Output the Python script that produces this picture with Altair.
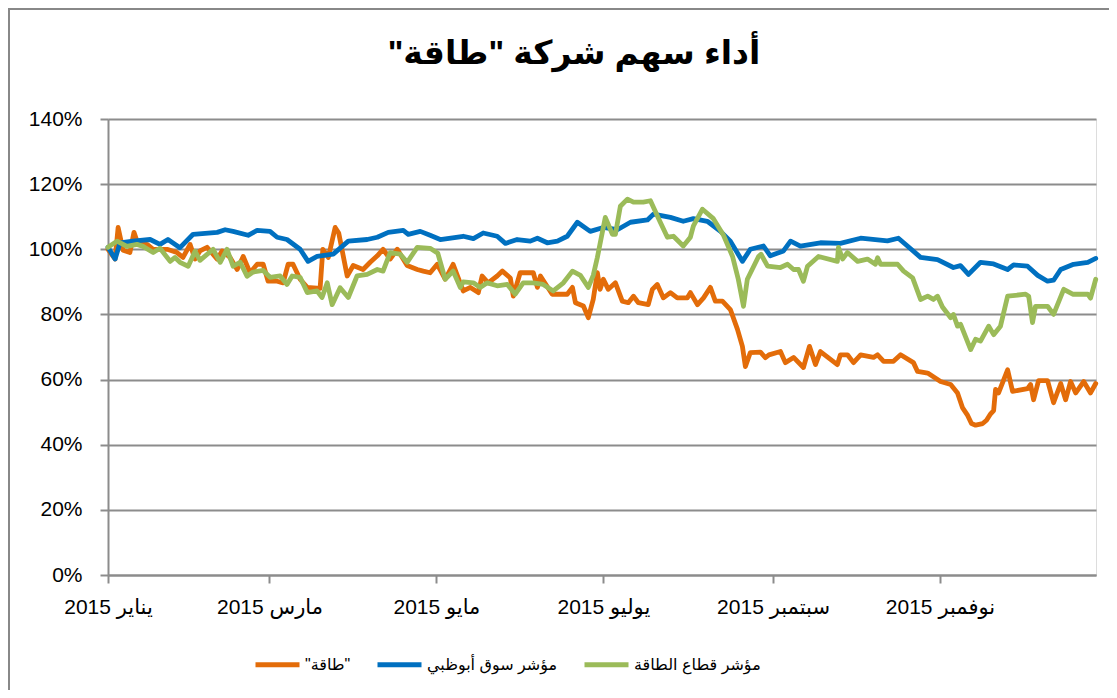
import json
import altair as alt
import pandas as pd

START = pd.Timestamp("2015-01-01")

series_names = ["\u200f\"طاقة\"\u200f", "مؤشر سوق أبوظبي", "مؤشر قطاع الطاقة"]
series_colors = ["#E36C09", "#0070C0", "#9BBB59"]

chart_title = "\u200fأداء سهم شركة \"طاقة\"\u200f"

# day offsets from 1 Jan 2015 and values in percent
taqa_days = [0, 2.6, 3.7, 5.5, 8, 9.5, 11, 14.3, 16.5, 21.6, 25.2, 27.4, 30, 31.8, 33.6, 36.2, 39.9, 41.7, 44.6,
             47.2, 49.4, 51.9, 54.5, 56.7, 58.5, 61.8, 64, 65.8, 67.6, 70.2, 72.8, 77.5, 78.5, 80.5, 83, 84.3,
             87.4, 89.6, 93.2, 95.8, 98.4, 100.5, 103.1, 105.7, 109.3, 113, 115.2, 117.7, 120.3, 123.2, 126.1,
             129.8, 132.4, 135.3, 136.7, 138.9, 142.2, 144.1, 147, 148.1, 150.6, 155.4, 156.9, 158, 162.3, 167.8,
             169.7, 170.8, 173.7, 175.5, 177.3, 178.8, 179.8, 181, 182.8, 185.4, 187.9, 190.1, 192, 193.8, 197.4,
             198.9, 200.7, 202.9, 205.5, 208, 211.7, 212.8, 215.4, 217.6, 220.1, 221.9, 224.5, 227.4, 230, 231.8,
             232.9, 234.7, 238.4, 240.2, 241.5, 245.7, 247.5, 250.5, 254.1, 256.3, 258.5, 260.3, 266.5, 267.6,
             270.2, 272.4, 275, 279.7, 281.2, 283.4, 287, 289.6, 294.3, 295.8, 299.5, 304.2, 307.9, 310.4, 312.2,
             314.1, 315.5, 317, 319.6, 321, 322.5, 323.6, 324.3, 325.4, 328.7, 330.5, 336, 337.1, 338.2, 340,
             343.3, 345.5, 348.1, 349.9, 351.7, 353.6, 356.5, 359, 360.9]
taqa_vals = [100, 97, 106.7, 99.7, 99, 105.2, 101.5, 101.5, 100, 100, 99, 97.5, 101.5, 97, 99.5, 100.6, 97, 99.5, 97.5,
             93.8, 97.8, 92.8, 95.4, 95.4, 90.2, 90.2, 89.7, 95.4, 95.4, 90.8, 88.3, 88, 100, 97.5, 106.7, 105,
             91.8, 95, 93.8, 96, 98, 100, 97, 100, 95, 93.8, 93.3, 92.8, 95.4, 90.8, 95.4,
             87.2, 88.3, 86.7, 91.8, 89.7, 91.8, 93.3, 91.2, 85.6, 92.8, 92.8, 88.3, 91.8, 86.2, 86.2,
             88.3, 83.6, 82.6, 79, 84.6, 92.8, 87.7, 90.8, 87.7, 89.7, 84.1, 83.6, 85.6, 83.6, 83,
             87.7, 89.2, 85.1, 86.7, 85.1, 85.1, 86.7, 83, 85.1, 88.3, 84.1, 84.1, 81.5, 75.4, 70.2,
             64, 68.3, 68.4, 66.7, 67.6, 68.6, 65.2, 66.8, 63.7, 70.2, 64.6, 68.6, 64.6, 67.6,
             67.6, 65.2, 67.6, 66.8, 67.6, 65.6, 65.6, 67.6, 65.2, 62.5, 62, 59.4, 58.5, 55.9, 51.4,
             49, 46.5, 46, 46.5, 47.5, 49.5, 50.5, 57, 55.9, 63, 56.4, 57.2, 58.5, 53.8, 59.7,
             59.7, 52.9, 58.8, 53.8, 59.4, 55.9, 59.4, 55.9, 58.8]

adx_days = [0, 2.6, 4.4, 9.1, 15.4, 19, 21.9, 26.3, 31.1, 39.9, 42.8, 45.7, 51.2, 54.5, 59.2, 61.8, 65.4, 70.2, 73.1,
            76.4, 82.3, 87.8, 94.7, 98.4, 102.4, 107.9, 109.7, 114.1, 117.7, 121.4, 129.8, 133.5, 137.1, 142.2,
            145.2, 149.5, 154.3, 156.9, 160.5, 164.2, 167.8, 171.5, 176.2, 181, 186.1, 190.9, 197.1, 199.3, 205.5,
            210.2, 213.9, 219, 223.8, 227.4, 231.8, 234.7, 239.5, 242, 246.8, 249.4, 253, 260.3, 267.6, 275,
            284.8, 288.8, 292.1, 296.9, 303.1, 308.9, 311.5, 314.4, 318.8, 323.6, 328.7, 330.9, 336, 339.7,
            343.3, 345.5, 348.1, 352.8, 358, 360.9]
adx_vals = [100.6, 97, 102, 102.5, 103, 101.5, 103, 100.5, 104.6, 105.2, 106, 105.5, 104.3, 105.8, 105.5, 103.7, 103,
            100, 96.3, 97.8, 98.5, 102.5, 103, 103.7, 105.2, 105.8, 104.6, 105.5, 104.3, 103, 104, 103.3, 105, 104,
            101.8, 103, 102.5, 103.4, 102, 102.5, 104, 108.3, 105.5, 106.7, 106, 108.3, 109, 110.8, 109.8,
            108.6, 109.4, 108.6, 105.5, 102.5, 96.3, 100, 101, 98, 99.5, 102.5, 101, 102, 101.8, 103.4,
            102.6, 103.4, 101, 97.5, 96.8, 94.4, 95, 92.3, 96, 95.5, 93.8, 95.2, 94.8, 92,
            90.2, 90.5, 93.8, 95.4, 96, 97.2]

energy_days = [0, 3.3, 6.9, 10.6, 12.8, 16.5, 19, 22.7, 24.5, 26.3, 29.3, 31.8, 33.6, 38.4, 41, 43.5, 45.7, 48.3,
               50.8, 53, 56.7, 59.2, 62.9, 65.4, 67.3, 70.2, 72.8, 76.4, 78.2, 80.1, 81.9, 84.8, 87.8, 91, 94.7,
               98.4, 100.5, 103.1, 106.8, 109.3, 113, 117.7, 120.5, 123.2, 126.1, 128.7, 129.8, 133.5, 136, 138.6,
               142.2, 145.9, 148.8, 151.7, 155.4, 159, 162.7, 166.4, 169.7, 172.6, 175.5, 177.3, 178.8, 181.7,
               184.3, 185.4, 187.2, 189.8, 192, 195.6, 198.2, 201.8, 204.4, 206.6, 210.2, 212.8, 213.9, 217.2,
               221.2, 224.9, 228.2, 230.3, 232.2, 233.6, 237.7, 238.6, 241, 245.7, 248.3, 250.5, 252.3, 254.1,
               255.6, 259.6, 266.5, 266.9, 268.4, 270.2, 273.9, 277.5, 280.4, 281.2, 282.3, 288.5, 290.7, 294,
               296.9, 299.5, 301.6, 303.1, 304.9, 307.9, 308.9, 310.4, 311.5, 315.2, 317, 318.8, 321.8, 323.6,
               326.1, 328.7, 335.3, 336.4, 337.8, 338.9, 343.3, 345.5, 349.2, 352.5, 358, 359, 360.9]
energy_vals = [100.6, 102.5, 100.9, 101.5, 100.9, 99, 100.3, 96.3, 97.5, 96, 94.8, 99.4, 96.6, 100, 96, 100, 94.8, 96,
               91.7, 93, 93.5, 91.4, 91.8, 89.2, 91.8, 91.4, 86.7, 87.2, 85.2, 89.7, 83, 88.2, 85.2, 91.8, 92.3,
               93.8, 93.3, 99, 98.5, 96, 100.6, 100.3, 98.8, 90.8, 93.3, 88.3, 90, 89.7, 88.3, 89.7,
               88.8, 89.2, 86.2, 89.7, 89.7, 89.2, 87.2, 89.7, 93.3, 92, 88.3, 92, 97.5, 109.8,
               104.6, 104.6, 113.2, 115.4, 114.5, 114.5, 114.9, 108.3, 103.7, 104, 101, 103.7, 107.2, 112.3,
               109.4, 104.3, 97.8, 90.8, 82.5, 90.8, 97.8, 98.5, 94.8, 94.4, 95.4, 93.8, 93.8, 90.2,
               94.8, 97.8, 96.3, 100.6, 97, 99, 96.3, 97, 95.4, 97.4, 95.4, 95.4, 93.3, 91.2,
               84.6, 85.6, 84.6, 85.6, 82.3, 79, 80, 76.4, 77, 69.2, 72.4, 71.8, 76.4, 73.8,
               76.4, 85.6, 86.2, 85.6, 77.5, 82.5, 82.5, 80, 87.7, 86.2, 86.2, 85, 90.8]

tick_months = [1, 3, 5, 7, 9, 11]
tick_labels = ["يناير 2015", "مارس 2015", "مايو 2015", "يوليو 2015", "سبتمبر 2015", "نوفمبر 2015"]
y_ticks = [0, 0.2, 0.4, 0.6, 0.8, 1.0, 1.2, 1.4]

frames = []
for name, days, vals in [(series_names[0], taqa_days, taqa_vals),
                         (series_names[1], adx_days, adx_vals),
                         (series_names[2], energy_days, energy_vals)]:
    frames.append(pd.DataFrame({
        "date": START + pd.to_timedelta(days, unit="D"),
        "value": [v / 100 for v in vals],
        "series": name,
    }))
df = pd.concat(frames, ignore_index=True)

FONT = "Liberation Sans, Arial, DejaVu Sans, sans-serif"
GRID = "#8c8c8c"

label_expr = json.dumps(tick_labels, ensure_ascii=False) + "[floor(month(datum.value)/2)]"

lines = alt.Chart(df).mark_line(strokeWidth=4.8, strokeJoin="round", strokeCap="round").encode(
    x=alt.X("date:T",
            scale=alt.Scale(domain=[alt.DateTime(year=2015, month=1, date=1),
                                    alt.DateTime(year=2015, month=12, date=28)]),
            axis=alt.Axis(values=[alt.DateTime(year=2015, month=m, date=1) for m in tick_months],
                          labelExpr=label_expr, title=None, grid=False, labelFlush=False,
                          labelFont=FONT, labelFontSize=21, labelColor="black",
                          labelPadding=13, tickSize=8, tickColor=GRID, tickWidth=2,
                          domainColor=GRID, domainWidth=2, labelOverlap=False)),
    y=alt.Y("value:Q",
            scale=alt.Scale(domain=[0, 1.4], nice=False),
            axis=alt.Axis(values=y_ticks, format=".0%", title=None,
                          labelFont=FONT, labelFontSize=21, labelColor="black",
                          labelPadding=18, tickSize=8, tickColor=GRID, tickWidth=2,
                          domainColor=GRID, domainWidth=2,
                          gridColor=GRID, gridWidth=2)),
    color=alt.Color("series:N",
                    scale=alt.Scale(domain=series_names, range=series_colors),
                    legend=alt.Legend(orient="none", legendX=145, legendY=521, direction="horizontal",
                                      title=None, symbolType="stroke", symbolSize=1936,
                                      symbolStrokeWidth=5, labelFont=FONT, labelFontSize=16,
                                      labelColor="black", columnPadding=16, labelOffset=3)),
)

one_row = pd.DataFrame({"title": [chart_title]})

border = alt.Chart(one_row).mark_rect(fill="white", fillOpacity=0, stroke="#888888", strokeWidth=2).encode(
    x=alt.value(-99), x2=alt.value(1200), y=alt.value(-110), y2=alt.value(800)
)

title_text = alt.Chart(one_row).mark_text(font=FONT, fontSize=33, fontWeight="bold", color="black",
                                          align="center", baseline="middle").encode(
    text="title:N", x=alt.value(466), y=alt.value(-65)
)

chart = alt.layer(border, lines, title_text).properties(
    width=988, height=456,
    padding={"left": 100, "top": 111, "right": 13, "bottom": 115},
    autosize=alt.AutoSizeParams(type="none"),
).configure_view(strokeOpacity=0).configure(background="white")

chart.save("out.html", embed_options={"renderer": "svg", "actions": False})
